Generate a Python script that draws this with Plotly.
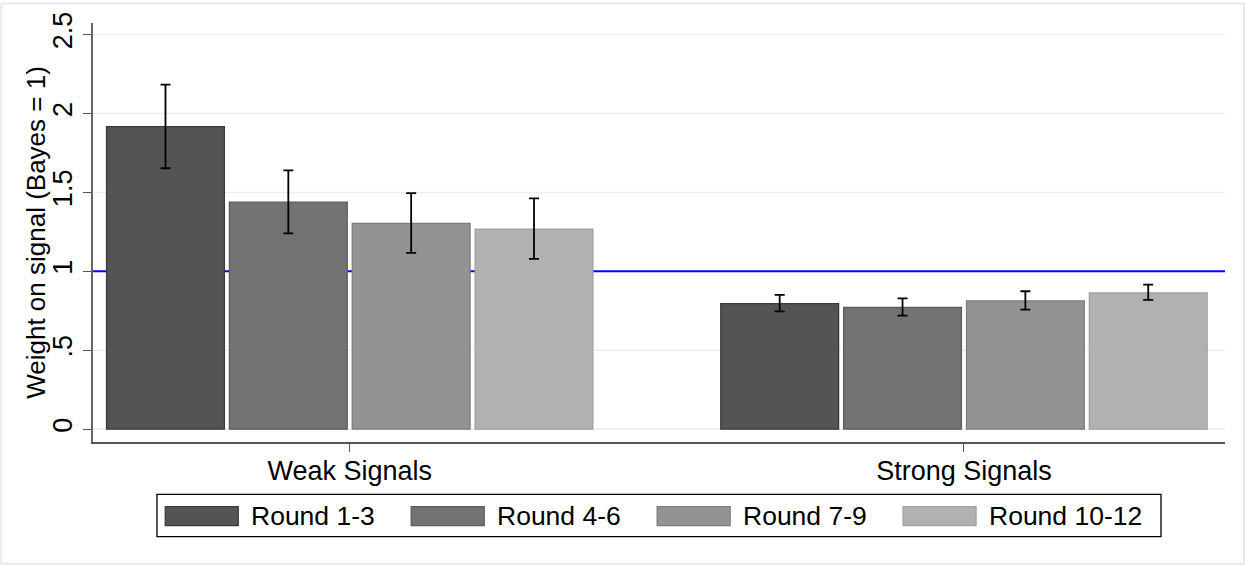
import plotly.graph_objects as go

# ---- data ----
categories = ["Weak Signals", "Strong Signals"]
series_names = ["Round 1-3", "Round 4-6", "Round 7-9", "Round 10-12"]
weak_mean = [1.916, 1.438, 1.304, 1.268]
weak_hi = [2.183, 1.640, 1.495, 1.462]
weak_lo = [1.653, 1.241, 1.117, 1.079]
strong_mean = [0.796, 0.771, 0.813, 0.864]
strong_hi = [0.851, 0.829, 0.874, 0.916]
strong_lo = [0.747, 0.720, 0.758, 0.819]
bayes_line = 1.0
y_ticks = [0, 0.5, 1, 1.5, 2, 2.5]
y_ticklabels = ["0", ".5", "1", "1.5", "2", "2.5"]
y_title = "Weight on signal (Bayes = 1)"

# ---- style ----
fills = ["#545454", "#737373", "#939393", "#b1b1b1"]
edges = ["#3a3a3a", "#5c5c5c", "#7e7e7e", "#a2a2a2"]
FONT = "Arial, 'Liberation Sans', sans-serif"

W, H = 1245, 565
L, R, T, B = 92.7, 20, 20.7, 123.3
pw, ph = W - L - R, H - T - B

def px(x):
    return (x - L) / pw

def py(y):
    return (H - B - y) / ph

fig = go.Figure()
for i, name in enumerate(series_names):
    means = [weak_mean[i], strong_mean[i]]
    his = [weak_hi[i], strong_hi[i]]
    los = [weak_lo[i], strong_lo[i]]
    fig.add_trace(go.Bar(
        x=categories, y=means, name=name,
        marker=dict(color=fills[i], line=dict(color=edges[i], width=1.3)),
        error_y=dict(type="data", symmetric=False,
                     array=[h - m for h, m in zip(his, means)],
                     arrayminus=[m - l for m, l in zip(means, los)],
                     color="black", thickness=1.8, width=5),
        showlegend=False,
    ))

shapes = [
    # outer frame
    dict(type="rect", xref="paper", yref="paper", x0=px(1), x1=px(W - 1), y0=py(1), y1=py(H - 1),
         line=dict(color="#e4eaee", width=2), layer="below"),
]
# horizontal grid lines (drawn as shapes so the reference line sits above them)
for v in y_ticks:
    if v == bayes_line:
        continue
    shapes.append(dict(type="line", xref="paper", yref="y", x0=0, x1=1, y0=v, y1=v,
                       line=dict(color="#eaf0f2", width=1.5), layer="below"))
shapes.append(dict(type="line", xref="paper", yref="y", x0=0, x1=1, y0=bayes_line, y1=bayes_line,
                   line=dict(color="#0000ff", width=2), layer="below"))
# legend box
shapes.append(dict(type="rect", xref="paper", yref="paper", x0=px(156.7), x1=px(1161),
                   y0=py(494.3), y1=py(536.7), line=dict(color="black", width=1.3),
                   fillcolor="white"))

annotations = [
    dict(xref="paper", yref="paper", x=px(35), y=0.5, xanchor="center", yanchor="middle",
         text=y_title, textangle=-90, showarrow=False,
         font=dict(family=FONT, size=26, color="black")),
]
for i, name in enumerate(series_names):
    x0 = 165 + i * 246
    shapes.append(dict(type="rect", xref="paper", yref="paper", x0=px(x0), x1=px(x0 + 73),
                       y0=py(506.7), y1=py(525.7), fillcolor=fills[i],
                       line=dict(color=edges[i], width=1.3)))
    annotations.append(dict(xref="paper", yref="paper", x=px(x0 + 84), y=py(516.2),
                            xanchor="left", yanchor="middle", text=name, showarrow=False,
                            font=dict(family=FONT, size=26.5, color="black")))

fig.update_layout(
    width=W, height=H,
    margin=dict(l=L, r=R, t=T, b=B, pad=0),
    paper_bgcolor="white", plot_bgcolor="white",
    barmode="group", bargap=0.2, bargroupgap=0.041,
    font=dict(family=FONT, size=26, color="black"),
    shapes=shapes, annotations=annotations,
    xaxis=dict(range=[-0.418, 1.425], showgrid=False, showline=True, linecolor="#555555",
               linewidth=2, ticks="outside", ticklen=8, tickcolor="#555555", tickwidth=1,
               tickfont=dict(size=27), zeroline=False, fixedrange=True,
               ticklabelstandoff=-4),
    yaxis=dict(range=[-0.081, 2.573], tickvals=y_ticks, ticktext=y_ticklabels,
               tickangle=-90, showgrid=False,
               showline=True, linecolor="#666666", linewidth=1.5, ticks="outside",
               ticklen=8, tickcolor="#555555", tickwidth=1, zeroline=False,
               tickfont=dict(size=27), fixedrange=True),
)

fig.write_html("out.html", config={"displayModeBar": False},
               post_script="document.body.style.margin='0';document.body.style.overflow='hidden';")
